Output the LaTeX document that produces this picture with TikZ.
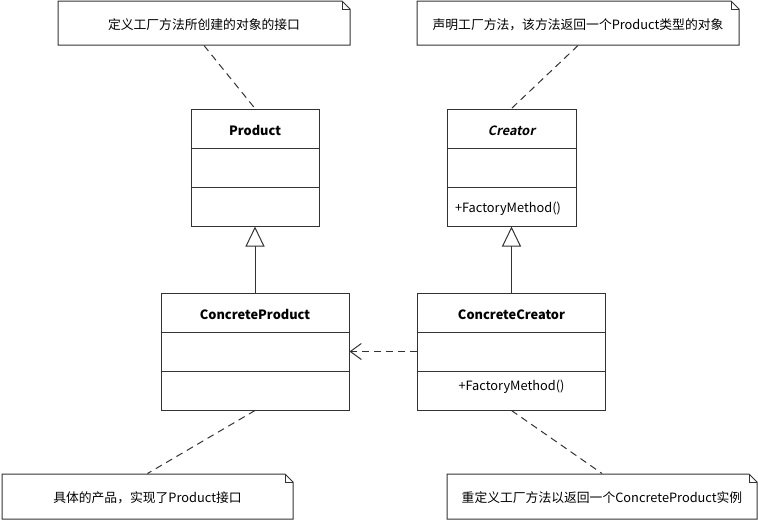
\documentclass[tikz,border=0pt]{standalone}
\usepackage{fontspec}
\setmainfont{Noto Sans CJK SC}[ItalicFont={*}, ItalicFeatures={FakeSlant=0.2}, BoldItalicFont={* Bold}, BoldItalicFeatures={FakeSlant=0.2}]
\usetikzlibrary{arrows.meta,calc}
\definecolor{ln}{HTML}{333333}
\begin{document}
\begin{tikzpicture}[x=1pt,y=-1pt,line width=1pt,
  every node/.style={font=\fontsize{12.8pt}{15pt}\selectfont, inner sep=0pt, text=black},
  clsbox/.style={draw=ln, minimum height=117pt, fill=white},
  notearea/.style={minimum height=44pt},
  ttl/.style={font=\fontsize{12.8pt}{15pt}\selectfont\bfseries},
  conn/.style={draw=ln, dash pattern=on 7pt off 5pt},
  inh/.style={draw=ln, -{Triangle[open, length=20pt, width=19pt, fill=white]}},
  dep/.style={draw=ln, dash pattern=on 7pt off 5pt, -{Straight Barb[length=11pt, width=16pt]}}]
\fill[white] (0,0) rectangle (758,520);
\useasboundingbox (0,0) rectangle (758,520);

% notes outlines
\draw[ln] (58,1) -- (342,1) -- (350,9) -- (350,45) -- (58,45) -- cycle;
\draw[ln] (342,1) -- (342,9) -- (350,9);
\draw[ln] (417,1) -- (731,1) -- (739,9) -- (739,45) -- (417,45) -- cycle;
\draw[ln] (731,1) -- (731,9) -- (739,9);
\draw[ln] (2,474) -- (285,474) -- (293,482) -- (293,519) -- (2,519) -- cycle;
\draw[ln] (285,474) -- (285,482) -- (293,482);
\draw[ln] (447,474) -- (749,474) -- (757,482) -- (757,519) -- (447,519) -- cycle;
\draw[ln] (749,474) -- (749,482) -- (757,482);

\node[notearea, minimum width=292pt] (n1) at (204,23) {};
\node[notearea, minimum width=322pt] (n2) at (578,23) {};
\node[notearea, minimum width=291pt, minimum height=45pt] (n3) at (147.5,496.5) {};
\node[notearea, minimum width=310pt, minimum height=45pt] (n4) at (602,496.5) {};
\node (t1) at (204,24.5) {定义工厂方法所创建的对象的接口};
\node (t2) at (578,24.5) {声明工厂方法，该方法返回一个Product类型的对象};
\node (t3) at (147.5,498) {具体的产品，实现了Product接口};
\node (t4) at (602,498) {重定义工厂方法以返回一个ConcreteProduct实例};

% classes
\node[clsbox, minimum width=128pt] (prod) at (255,167.5) {};
\node[clsbox, minimum width=129pt] (cre) at (511.5,167.5) {};
\node[clsbox, minimum width=188pt] (cprod) at (255,351.5) {};
\node[clsbox, minimum width=188pt] (ccre) at (511.5,351.5) {};

\foreach \b/\t in {prod/128.5, cre/128.5, cprod/312.5, ccre/312.5}{
  \draw[ln] (\b.west |- 0,\t+19.5) -- (\b.east |- 0,\t+19.5);
  \draw[ln] (\b.west |- 0,\t+58.5) -- (\b.east |- 0,\t+58.5);
}
\node[ttl] (tprod) at (255,130.5) {Product};
\node[ttl, font=\fontsize{12.8pt}{15pt}\selectfont\bfseries\itshape] (tcre) at (511.5,130.5) {Creator};
\node[ttl] (tcprod) at (255,314.5) {ConcreteProduct};
\node[ttl] (tccre) at (511.5,314.5) {ConcreteCreator};
\node (mcre) at (508,208.5) {+FactoryMethod()};
\node (mccre) at (511.5,386.5) {+FactoryMethod()};

% connectors
\draw[conn] (n1.south) -- (prod.north);
\draw[conn] (n2.south) -- (cre.north);
\draw[conn] (cprod.south) -- (n3.north);
\draw[conn] (ccre.south) -- (n4.north);
\draw[inh] (cprod.north) -- (prod.south);
\draw[inh] (ccre.north) -- (cre.south);
\draw[dep] (ccre.west) -- (cprod.east);
\end{tikzpicture}
\end{document}
